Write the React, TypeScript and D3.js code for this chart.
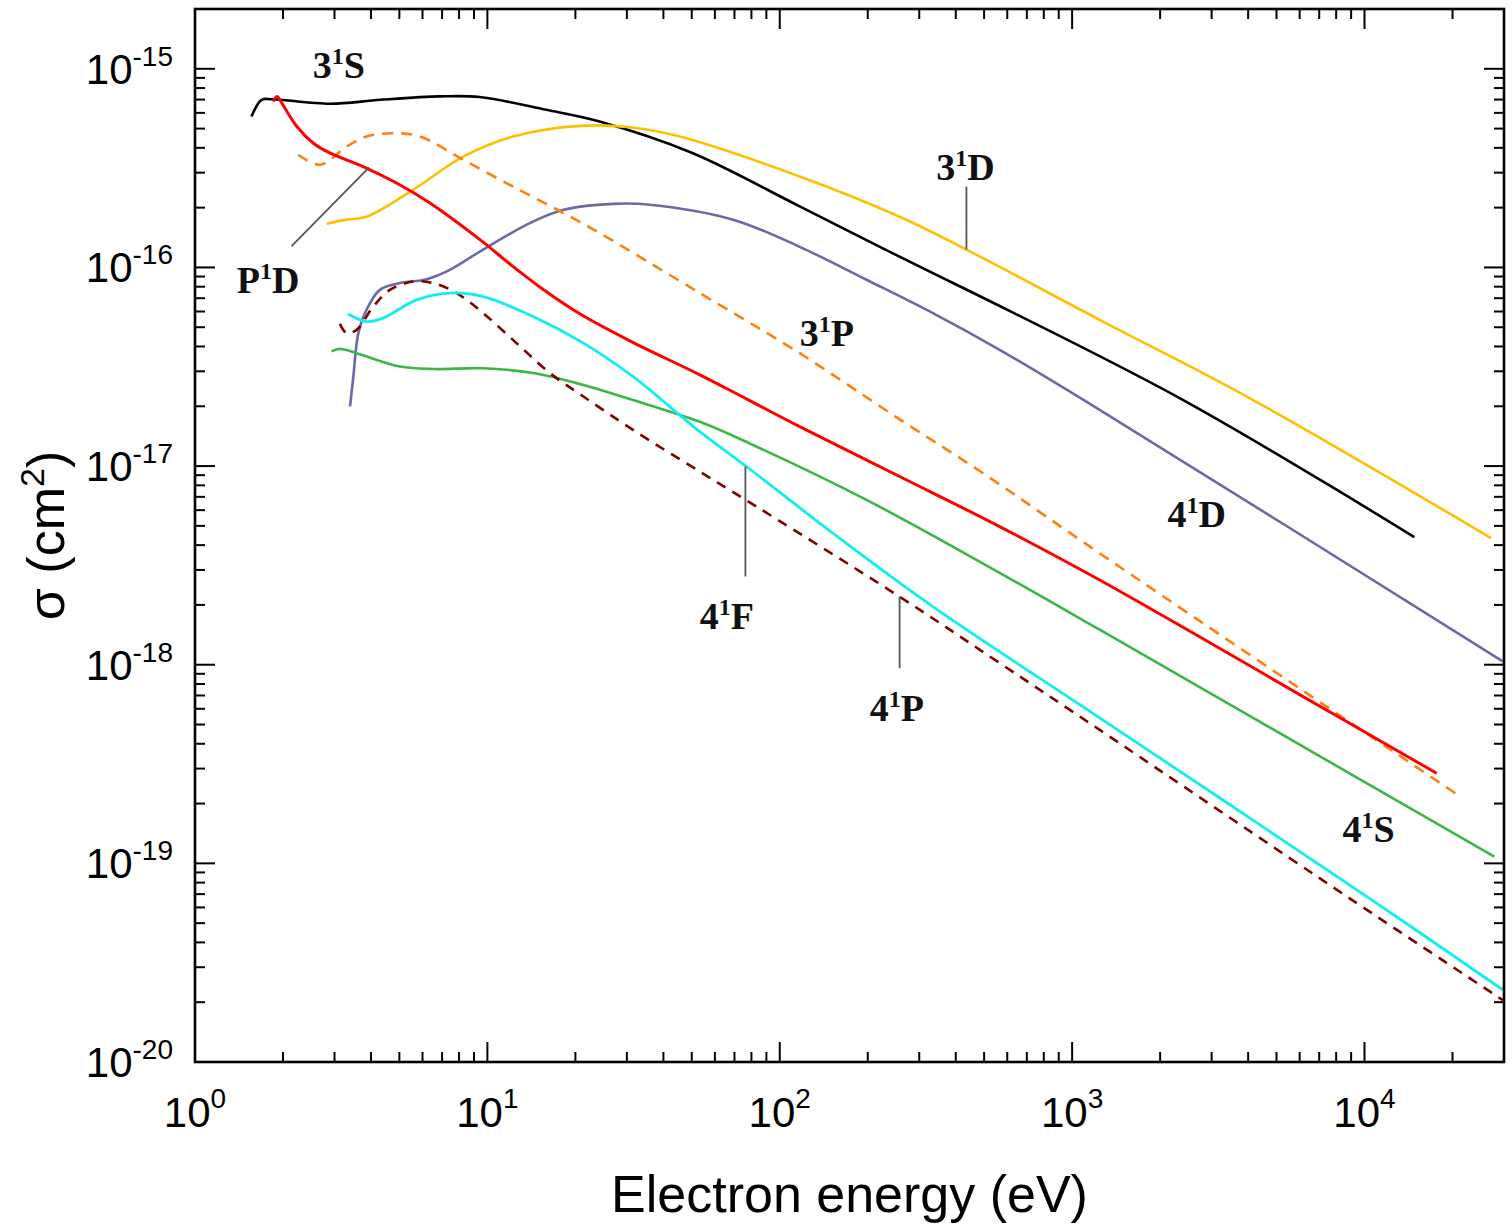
import React from "react";
import * as d3 from "d3";

const W = 1512;
const H = 1230;
const PLOT = { left: 195, right: 1504, top: 9, bottom: 1062 };

const X_DOMAIN: [number, number] = [1, 3e4];
const Y_DOMAIN: [number, number] = [1e-20, 2e-15];
const X_TICK_EXPONENTS = [0, 1, 2, 3, 4];
const Y_TICK_EXPONENTS = [-15, -16, -17, -18, -19, -20];

// 3^1S (black)
const E_3S = [1.56, 1.69, 1.83, 2.9, 4.3, 6.9, 9.4, 15.9, 24.2, 50, 117, 220, 2331, 14800];
const S_3S = [5.75e-16, 6.98e-16, 7.03e-16, 6.67e-16, 6.98e-16, 7.26e-16, 7.21e-16, 6.22e-16, 5.43e-16, 3.78e-16, 2.03e-16, 1.27e-16, 2.2e-17, 4.39e-18];

// 3^1D (amber)
const E_3D = [2.82, 3.3, 3.86, 5.57, 8.27, 12.25, 20.7, 30.7, 45.5, 117, 257, 435, 1242, 4045, 27100];
const S_3D = [1.66e-16, 1.74e-16, 1.8e-16, 2.46e-16, 3.61e-16, 4.56e-16, 5.16e-16, 5.08e-16, 4.56e-16, 2.87e-16, 1.8e-16, 1.23e-16, 5.45e-17, 2.2e-17, 4.34e-18];

// P^1D (red)
const E_PD = [1.85, 1.91, 1.95, 2.23, 2.54, 2.89, 3.76, 4.89, 6.36, 9.43, 12.25, 15.93, 20.7, 30.7, 53.3, 76.9, 117, 257, 565, 1242, 7780, 17660];
const S_PD = [6.84e-16, 7.26e-16, 6.98e-16, 5.12e-16, 4.22e-16, 3.77e-16, 3.22e-16, 2.66e-16, 2.11e-16, 1.38e-16, 1.01e-16, 7.54e-17, 5.84e-17, 4.27e-17, 2.88e-17, 2.18e-17, 1.58e-17, 8.86e-18, 4.96e-18, 2.67e-18, 5.68e-19, 2.84e-19];

// 3^1P (orange dashed)
const E_3P = [2.255, 2.676, 3.3, 3.86, 4.76, 5.88, 8.27, 12.25, 18.2, 24.2, 53.3, 117, 257, 496, 1242, 20850];
const S_3P = [3.69e-16, 3.29e-16, 4.06e-16, 4.56e-16, 4.74e-16, 4.56e-16, 3.48e-16, 2.55e-16, 1.88e-16, 1.49e-16, 7.43e-17, 3.7e-17, 1.72e-17, 9.2e-18, 3.64e-18, 2.21e-19];

// 4^1D (slate blue)
const E_4D = [3.39, 3.48, 3.62, 3.86, 4.29, 5.02, 6.2, 7.44, 9.67, 13.97, 18.2, 26.9, 35.9, 69.2, 117, 198, 334, 565, 1242, 29700];
const S_4D = [2.0e-17, 2.82e-17, 4.67e-17, 6.12e-17, 7.71e-17, 8.34e-17, 8.73e-17, 9.73e-17, 1.23e-16, 1.67e-16, 1.95e-16, 2.09e-16, 2.07e-16, 1.74e-16, 1.27e-16, 8.67e-17, 5.89e-17, 3.85e-17, 1.92e-17, 1.04e-18];

// 4^1F (cyan)
const E_4F = [3.34, 3.86, 4.4, 5.73, 7.44, 9.67, 14.35, 21.3, 31.5, 53.3, 76.9, 152, 334, 1242, 10400, 29700];
const S_4F = [5.83e-17, 5.34e-17, 5.56e-17, 6.87e-17, 7.43e-17, 7.13e-17, 5.66e-17, 4.16e-17, 2.82e-17, 1.49e-17, 9.95e-18, 4.59e-18, 1.96e-18, 5.4e-19, 6.67e-20, 2.31e-20];

// 4^1S (green)
const E_4S = [2.93, 3.13, 3.57, 5.02, 6.53, 9.67, 14.35, 21.3, 31.5, 53.3, 78.9, 198, 565, 1242, 27800];
const S_4S = [3.78e-17, 3.89e-17, 3.7e-17, 3.17e-17, 3.08e-17, 3.11e-17, 2.94e-17, 2.56e-17, 2.15e-17, 1.67e-17, 1.3e-17, 6.76e-18, 2.9e-18, 1.5e-18, 1.08e-19];

// 4^1P (maroon dashed)
const E_4P = [3.13, 3.3, 3.57, 4.07, 4.64, 5.58, 6.53, 7.85, 9.67, 12.58, 16.36, 21.3, 31.5, 53.3, 74.9, 257, 565, 1242, 8890, 29700];
const S_4P = [5.2e-17, 4.67e-17, 4.85e-17, 6.35e-17, 7.71e-17, 8.49e-17, 8.34e-17, 7.43e-17, 5.89e-17, 4.16e-17, 2.94e-17, 2.24e-17, 1.52e-17, 9.38e-18, 6.89e-18, 2.2e-18, 1.02e-18, 4.7e-19, 6.67e-20, 2.05e-20];

const SERIES = [
  { key: "3S", e: E_3S, s: S_3S, color: "#000000", width: 2.6, dash: null },
  { key: "3D", e: E_3D, s: S_3D, color: "#FFC000", width: 2.6, dash: null },
  { key: "4D", e: E_4D, s: S_4D, color: "#6A6AA6", width: 2.6, dash: null },
  { key: "3P", e: E_3P, s: S_3P, color: "#FF8010", width: 2.6, dash: "11,8" },
  { key: "4S", e: E_4S, s: S_4S, color: "#3DB54A", width: 2.6, dash: null },
  { key: "4P", e: E_4P, s: S_4P, color: "#800000", width: 2.6, dash: "10,8" },
  { key: "4F", e: E_4F, s: S_4F, color: "#10EEF0", width: 2.8, dash: null },
  { key: "PD", e: E_PD, s: S_PD, color: "#FF0000", width: 3, dash: null },
];

// Curve labels: [main, sup, letter, E (left), sigma (baseline)]
const LABELS: [string, string, string, number, number][] = [
  ["3", "1", "S", 2.53, 9.01e-16],
  ["P", "1", "D", 1.39, 7.45e-17],
  ["3", "1", "D", 343, 2.76e-16],
  ["3", "1", "P", 117, 4.03e-17],
  ["4", "1", "D", 2121, 4.94e-18],
  ["4", "1", "F", 53.3, 1.51e-18],
  ["4", "1", "P", 203, 5.21e-19],
  ["4", "1", "S", 8410, 1.28e-19],
];

// Pointer lines: [E1, s1, E2, s2]
const POINTERS: [number, number, number, number][] = [
  [2.14, 1.28e-16, 3.94, 3.19e-16],
  [435, 2.55e-16, 435, 1.23e-16],
  [76.3, 9.94e-18, 76.3, 2.78e-18],
  [257, 2.2e-18, 257, 9.6e-19],
];

const isMajor = (v: number) => Math.abs(Math.log10(v) - Math.round(Math.log10(v))) < 1e-6;

export default function App() {
  const x = d3.scaleLog().domain(X_DOMAIN).range([PLOT.left, PLOT.right]);
  const y = d3.scaleLog().domain(Y_DOMAIN).range([PLOT.bottom, PLOT.top]);
  const line = d3
    .line<[number, number]>()
    .x((d) => x(d[0]))
    .y((d) => y(d[1]))
    .curve(d3.curveCatmullRom.alpha(0.5));

  const xTicks = x.ticks().filter((v) => v >= X_DOMAIN[0] && v <= X_DOMAIN[1]);
  const yTicks = y.ticks().filter((v) => v >= Y_DOMAIN[0] && v <= Y_DOMAIN[1]);
  const MAJ = 20;
  const MIN = 10;

  const sans = "'Liberation Sans', Arial, sans-serif";
  const serif = "'Liberation Serif', 'Times New Roman', serif";

  return (
    <svg width={W} height={H} style={{ position: "absolute", left: 0, top: 0, background: "#fff" }}>
      <rect x={0} y={0} width={W} height={H} fill="#fff" />
      <defs>
        <clipPath id="plotclip">
          <rect x={PLOT.left} y={PLOT.top} width={PLOT.right - PLOT.left} height={PLOT.bottom - PLOT.top} />
        </clipPath>
      </defs>

      {/* curves */}
      <g clipPath="url(#plotclip)">
        {SERIES.map((sr) => (
          <path
            key={sr.key}
            d={line(sr.e.map((e, i) => [e, sr.s[i]]) as [number, number][]) || ""}
            fill="none"
            stroke={sr.color}
            strokeWidth={sr.width}
            strokeDasharray={sr.dash || undefined}
            strokeLinejoin="round"
          />
        ))}
      </g>

      {/* pointers */}
      {POINTERS.map((p, i) => (
        <line key={i} x1={x(p[0])} y1={y(p[1])} x2={x(p[2])} y2={y(p[3])} stroke="#555" strokeWidth={1.8} />
      ))}

      {/* curve labels */}
      {LABELS.map((l, i) => (
        <text key={i} x={x(l[3])} y={y(l[4])} fontFamily={serif} fontWeight="bold" fontSize={38} fill="#111">
          {l[0]}
          <tspan dy={-14} fontSize={24}>{l[1]}</tspan>
          <tspan dy={14}>{l[2]}</tspan>
        </text>
      ))}

      {/* ticks */}
      <g stroke="#000" strokeWidth={2}>
        {xTicks.map((v, i) => {
          const len = isMajor(v) ? MAJ : MIN;
          const px = x(v);
          return (
            <g key={"xt" + i}>
              <line x1={px} x2={px} y1={PLOT.bottom} y2={PLOT.bottom - len} />
              <line x1={px} x2={px} y1={PLOT.top} y2={PLOT.top + len} />
            </g>
          );
        })}
        {yTicks.map((v, i) => {
          const len = isMajor(v) ? MAJ : MIN;
          const py = y(v);
          return (
            <g key={"yt" + i}>
              <line x1={PLOT.left} x2={PLOT.left + len} y1={py} y2={py} />
              <line x1={PLOT.right} x2={PLOT.right - len} y1={py} y2={py} />
            </g>
          );
        })}
      </g>

      {/* frame */}
      <rect
        x={PLOT.left}
        y={PLOT.top}
        width={PLOT.right - PLOT.left}
        height={PLOT.bottom - PLOT.top}
        fill="none"
        stroke="#000"
        strokeWidth={2.6}
      />

      {/* x tick labels */}
      {X_TICK_EXPONENTS.map((e) => (
        <text key={"xl" + e} x={x(Math.pow(10, e))} y={PLOT.bottom + 65} textAnchor="middle" fontFamily={sans} fontSize={42} fill="#000">
          10
          <tspan dy={-19} fontSize={28}>{String(e)}</tspan>
        </text>
      ))}

      {/* y tick labels */}
      {Y_TICK_EXPONENTS.map((e) => (
        <text key={"yl" + e} x={PLOT.left - 22} y={y(Math.pow(10, e)) + 15} textAnchor="end" fontFamily={sans} fontSize={42} fill="#000">
          10
          <tspan dy={-18} fontSize={28}>{"-" + String(-e)}</tspan>
        </text>
      ))}

      {/* axis titles */}
      <text x={(PLOT.left + PLOT.right) / 2} y={1212} textAnchor="middle" fontFamily={sans} fontSize={52} fill="#000">
        Electron energy (eV)
      </text>
      <text
        transform={`translate(64,${(PLOT.top + PLOT.bottom) / 2}) rotate(-90)`}
        textAnchor="middle"
        fontFamily={sans}
        fontSize={52}
        fill="#000"
      >
        σ (cm
        <tspan dy={-20} fontSize={34}>2</tspan>
        <tspan dy={20}>)</tspan>
      </text>
    </svg>
  );
}
